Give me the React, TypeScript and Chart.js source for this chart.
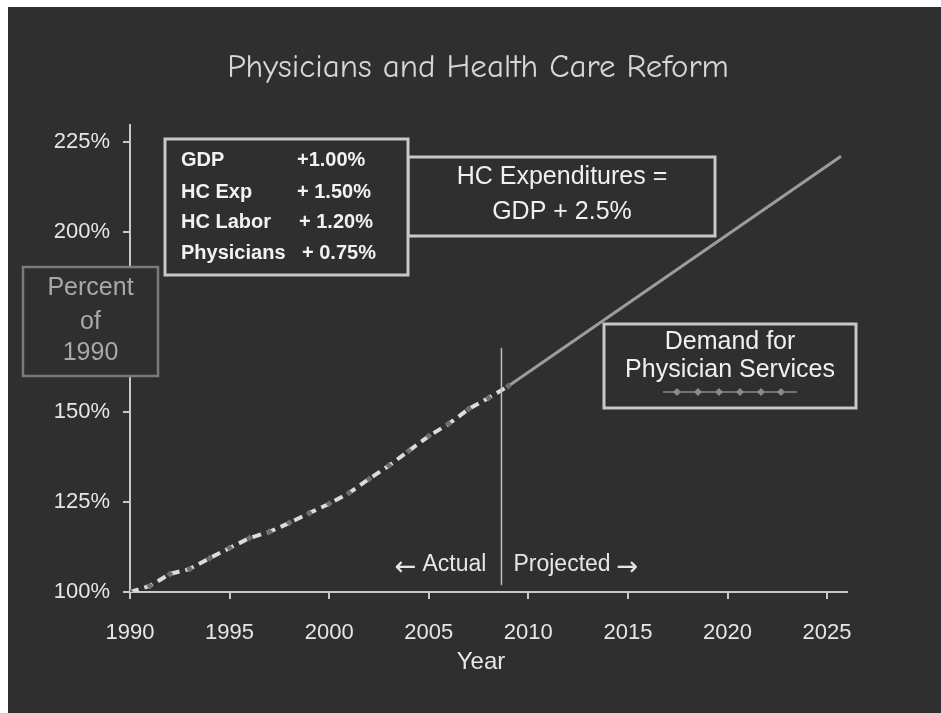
import React, { useEffect, useRef } from "react";
import { Chart, registerables } from "chart.js";

Chart.register(...registerables);

// ---- data ----
const actualYears = [1990, 1991, 1992, 1993, 1994, 1995, 1996, 1997, 1998, 1999, 2000, 2001, 2002, 2003, 2004, 2005, 2006, 2007, 2008, 2009];
const actualValues = [100, 101.7, 105, 106.4, 109.4, 112.2, 115, 116.7, 119.2, 121.9, 124.5, 127.5, 131.4, 135.1, 139.2, 143.3, 146.7, 150.8, 153.9, 157.2];
const projectedYears = [2009, 2025.7];
const projectedValues = [157.2, 221];
const xTickStep = 5;
const yTickStep = 25;
const dividerYear = 2008.65;
const dividerRange = [101.9, 167.8];

const titleText = "Physicians and Health Care Reform";
const xTitle = "Year";
const yTitleLines = ["Percent", "of", "1990"];
const rateLabels = ["GDP", "HC Exp", "HC Labor", "Physicians"];
const rateValues = ["+1.00%", "+ 1.50%", "+ 1.20%", "+ 0.75%"];
const hcLines = ["HC Expenditures =", "GDP + 2.5%"];
const demandLines = ["Demand for", "Physician Services"];
const actualLabel = "Actual";
const projectedLabel = "Projected";
const leftArrow = "\u2190";
const rightArrow = "\u2192";

const BG = "#2f2f2f";
const SANS = '"Liberation Sans", Arial, sans-serif';
const ARROW = '"DejaVu Sans", sans-serif';

const overlay = {
  id: "overlay",
  beforeDraw(chart: any) {
    const { ctx, width, height } = chart;
    ctx.save();
    ctx.fillStyle = BG;
    ctx.fillRect(0, 0, width, height);
    ctx.restore();
  },
  afterDraw(chart: any) {
    const { ctx } = chart;
    const xs = chart.scales.x;
    const ys = chart.scales.y;
    ctx.save();

    // title
    ctx.fillStyle = "#d6d6d6";
    ctx.font = '33px "Comic Sans MS", "Comic Neue", "Open Sans", sans-serif';
    ctx.textAlign = "center";
    ctx.textBaseline = "middle";
    ctx.fillText(titleText, 470, 61);

    // x title
    ctx.fillStyle = "#e6e6e6";
    ctx.font = `24px ${SANS}`;
    ctx.fillText(xTitle, 473, 655);

    // divider
    const dx = xs.getPixelForValue(dividerYear);
    ctx.strokeStyle = "#bdbdbd";
    ctx.lineWidth = 1.5;
    ctx.beginPath();
    ctx.moveTo(dx, ys.getPixelForValue(dividerRange[1]));
    ctx.lineTo(dx, ys.getPixelForValue(dividerRange[0]));
    ctx.stroke();

    ctx.fillStyle = "#e6e6e6";
    ctx.font = `23px ${SANS}`;
    ctx.textAlign = "right";
    ctx.fillText(actualLabel, dx - 15, 558);
    const aw = ctx.measureText(actualLabel).width;
    ctx.font = `26px ${ARROW}`;
    ctx.fillText(leftArrow, dx - 15 - aw - 6, 561);
    ctx.font = `23px ${SANS}`;
    ctx.textAlign = "left";
    ctx.fillText(projectedLabel, dx + 12, 558);
    const pw = ctx.measureText(projectedLabel).width;
    ctx.font = `26px ${ARROW}`;
    ctx.fillText(rightArrow, dx + 12 + pw + 6, 561);

    const box = (x: number, y: number, w: number, h: number, color: string, lw: number) => {
      ctx.fillStyle = BG;
      ctx.fillRect(x, y, w, h);
      ctx.strokeStyle = color;
      ctx.lineWidth = lw;
      ctx.strokeRect(x, y, w, h);
    };

    // HC box
    box(400, 150, 307, 79, "#c8c8c8", 3);
    ctx.fillStyle = "#f0f0f0";
    ctx.font = `25px ${SANS}`;
    ctx.textAlign = "center";
    ctx.fillText(hcLines[0], 554, 170);
    ctx.fillText(hcLines[1], 554, 205);

    // rates box
    box(157, 132, 243, 136, "#c8c8c8", 3);
    ctx.fillStyle = "#f2f2f2";
    ctx.font = `bold 20px ${SANS}`;
    ctx.textAlign = "left";
    const rowY = [153, 185, 215, 246];
    const valX = [289, 289, 291, 294];
    rateLabels.forEach((l, i) => {
      ctx.fillText(l, 173, rowY[i]);
      ctx.fillText(rateValues[i], valX[i], rowY[i]);
    });

    // demand box
    box(596, 317, 252, 84, "#c8c8c8", 3);
    ctx.fillStyle = "#f0f0f0";
    ctx.font = `25px ${SANS}`;
    ctx.textAlign = "center";
    ctx.fillText(demandLines[0], 722, 335);
    ctx.fillText(demandLines[1], 722, 363);
    ctx.strokeStyle = "#8a8a8a";
    ctx.lineWidth = 1.5;
    ctx.beginPath();
    ctx.moveTo(655, 385);
    ctx.lineTo(789, 385);
    ctx.stroke();
    ctx.fillStyle = "#8a8a8a";
    [669, 690, 711, 732, 753, 773].forEach((px) => {
      ctx.beginPath();
      ctx.moveTo(px, 381);
      ctx.lineTo(px + 4, 385);
      ctx.lineTo(px, 389);
      ctx.lineTo(px - 4, 385);
      ctx.closePath();
      ctx.fill();
    });

    // percent box
    box(15, 260, 135, 109, "#7a7a7a", 2.5);
    ctx.fillStyle = "#a8a8a8";
    ctx.font = `25px ${SANS}`;
    ctx.textAlign = "center";
    ctx.fillText(yTitleLines[0], 82.5, 281);
    ctx.fillText(yTitleLines[1], 82.5, 315);
    ctx.fillText(yTitleLines[2], 82.5, 346);

    ctx.restore();
  },
};

export default function App() {
  const ref = useRef<HTMLCanvasElement>(null);
  useEffect(() => {
    if (!ref.current) return;
    const chart = new Chart(ref.current, {
      type: "line",
      data: {
        datasets: [
          {
            label: "Actual",
            data: actualYears.map((x, i) => ({ x, y: actualValues[i] })),
            borderColor: "#dcdcdc",
            borderWidth: 4,
            borderDash: [9, 6],
            pointStyle: "rectRot",
            pointRadius: 3.5,
            pointBackgroundColor: "#6e6e6e",
            pointBorderWidth: 0,
            tension: 0,
          },
          {
            label: "Projected",
            data: projectedYears.map((x, i) => ({ x, y: projectedValues[i] })),
            borderColor: "#9c9c9c",
            borderWidth: 3,
            pointRadius: 0,
            tension: 0,
          },
        ],
      },
      options: {
        responsive: false,
        animation: false,
        layout: { padding: { left: 0, top: 118, right: 94, bottom: 0 } },
        plugins: { legend: { display: false }, tooltip: { enabled: false }, title: { display: false } },
        scales: {
          x: {
            type: "linear",
            min: 1990,
            max: 2026,
            ticks: {
              stepSize: xTickStep,
              includeBounds: false,
              autoSkip: false,
              maxRotation: 0,
              color: "#e6e6e6",
              padding: 21,
              font: { size: 22, family: SANS },
              callback: (v: any) => String(v),
            },
            grid: { drawOnChartArea: false, drawTicks: true, tickLength: 7, color: "#c8c8c8", lineWidth: 2 },
            border: { display: true, color: "#c8c8c8", width: 2 },
            afterFit: (s: any) => { s.height = 121; },
          },
          y: {
            type: "linear",
            min: 100,
            max: 229.7,
            ticks: {
              stepSize: yTickStep,
              includeBounds: false,
              color: "#e6e6e6",
              padding: 13,
              font: { size: 22, family: SANS },
              callback: (v: any) => v + "%",
            },
            grid: { drawOnChartArea: false, drawTicks: true, tickLength: 7, color: "#c8c8c8", lineWidth: 2 },
            border: { display: true, color: "#c8c8c8", width: 2 },
            afterFit: (s: any) => { s.width = 122; },
          },
        },
      },
      plugins: [overlay],
    } as any);
    return () => chart.destroy();
  }, []);
  return (
    <div style={{ position: "fixed", left: 8, top: 7, width: 933, height: 706, background: BG }}>
      <canvas ref={ref} width={933} height={706} style={{ display: "block" }} />
    </div>
  );
}
